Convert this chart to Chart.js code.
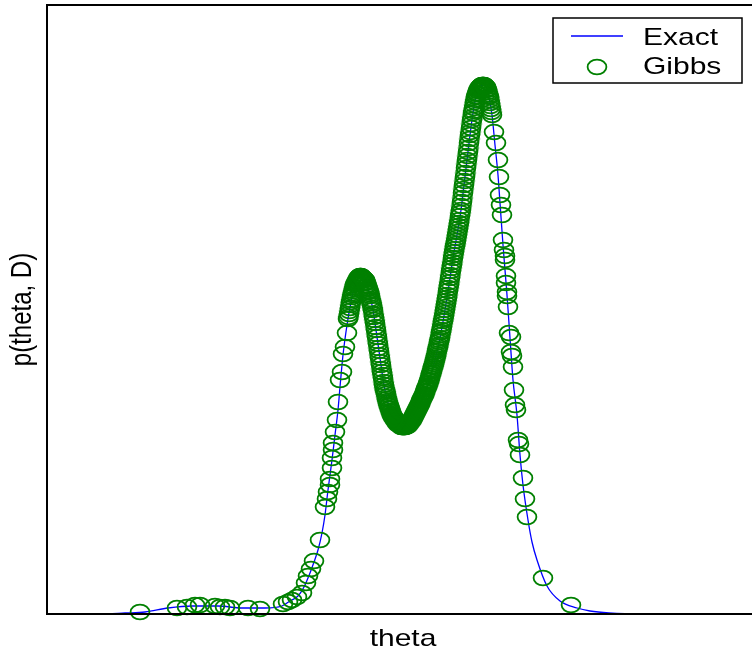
<!DOCTYPE html>
<html>
<head>
<meta charset="utf-8">
<title>Exact vs Gibbs</title>
<script src="https://cdn.jsdelivr.net/npm/chart.js@4/dist/chart.umd.min.js"></script>
<style>
  html, body { margin: 0; padding: 0; overflow: hidden; background: #fff; }
  canvas { display: block; }
</style>
</head>
<body>
<canvas id="densityChart" width="764" height="653"></canvas>
<script>
'use strict';

// exact density p(theta, D)
var exactTheta = [-3.50,-2.97,-2.72,-2.52,-2.29,-2.05,-1.79,-1.55,-1.32,-1.15,
  -1.07,-0.99,-0.93,-0.87,-0.83,-0.79,-0.75,-0.72,-0.69,-0.65,
  -0.62,-0.59,-0.57,-0.54,-0.50,-0.46,-0.42,-0.37,-0.32,-0.28,
  -0.24,-0.21,-0.17,-0.13,-0.09,-0.04,0.01,0.06,0.10,0.15,
  0.21,0.27,0.33,0.38,0.43,0.48,0.52,0.56,0.60,0.64,
  0.67,0.70,0.73,0.76,0.79,0.83,0.86,0.89,0.92,0.95,
  0.98,1.01,1.03,1.06,1.10,1.13,1.16,1.20,1.23,1.26,
  1.31,1.35,1.40,1.50,1.63,1.80,1.93,2.12,2.46,3.03,3.66];
var exactP = [0,0,0.001,0.002,0.006,0.008,0.008,0.006,0.006,0.008,
  0.013,0.018,0.027,0.041,0.052,0.064,0.081,0.099,0.124,0.154,
  0.179,0.204,0.227,0.259,0.289,0.312,0.329,0.338,0.334,0.322,
  0.304,0.284,0.256,0.229,0.211,0.197,0.190,0.187,0.188,0.194,
  0.206,0.219,0.236,0.254,0.276,0.304,0.329,0.356,0.379,0.404,
  0.429,0.454,0.479,0.501,0.517,0.527,0.529,0.527,0.517,0.499,
  0.469,0.439,0.411,0.369,0.319,0.276,0.234,0.199,0.159,0.129,
  0.094,0.072,0.054,0.028,0.013,0.006,0.003,0.001,0,0,0];

// Gibbs samples (theta, p) as they sit on the figure
var gibbsTheta = [-2.57,-2.20,-2.10,-2.02,-1.97,-1.82,-1.77,-1.72,-1.67,-1.49,
  -1.37,-1.14,-1.09,-1.05,-1.00,-0.95,-0.91,-0.89,-0.86,-0.83,
  -0.77,-0.72,-0.70,-0.69,-0.67,-0.67,-0.65,-0.65,-0.64,-0.64,
  -0.62,-0.60,-0.59,-0.57,-0.55,-0.54,-0.52,-0.50,
  -0.49,-0.48,-0.47,-0.46,-0.45,-0.44,-0.43,-0.42,-0.41,-0.40,
  -0.39,-0.38,-0.37,-0.36,-0.35,-0.34,-0.33,-0.32,-0.31,-0.30,
  -0.29,-0.28,-0.27,-0.26,-0.25,-0.24,-0.23,-0.22,-0.21,-0.20,
  -0.19,-0.18,-0.17,-0.16,-0.15,-0.14,-0.13,-0.12,-0.11,-0.10,
  -0.09,-0.08,-0.07,-0.06,-0.05,-0.04,-0.03,-0.02,-0.01,0.00,
  0.01,0.02,0.03,0.04,0.05,0.06,0.07,0.08,0.09,0.10,
  0.11,0.12,0.13,0.14,0.15,0.16,0.17,0.18,0.19,0.20,
  0.21,0.22,0.23,0.24,0.25,0.26,0.27,0.28,0.29,0.30,
  0.31,0.32,0.33,0.34,0.35,0.36,0.37,0.38,0.39,0.40,
  0.41,0.42,0.43,0.44,0.45,0.46,0.47,0.48,0.49,0.50,
  0.51,0.52,0.53,0.54,0.55,0.56,0.57,0.58,0.59,0.60,
  0.61,0.62,0.63,0.64,0.65,0.66,0.67,0.68,0.69,0.70,
  0.71,0.72,0.73,0.74,0.75,0.76,0.77,0.78,0.79,0.80,
  0.81,0.82,0.83,0.84,0.85,0.86,0.87,0.88,0.89,0.90,
  0.91,0.92,0.93,0.94,0.95,0.97,
  0.99,1.01,1.02,1.03,1.04,1.05,1.06,1.07,1.08,1.08,
  1.09,1.09,1.10,1.10,1.11,1.12,1.14,1.14,1.15,1.16,
  1.17,1.18,1.19,1.21,1.22,1.23,1.26,1.28,1.30,1.46,1.74];
var gibbsP = [0.002,0.006,0.007,0.009,0.009,0.008,0.007,0.007,0.006,0.006,
  0.005,0.010,0.012,0.014,0.017,0.021,0.031,0.038,0.045,0.053,
  0.074,0.107,0.115,0.122,0.129,0.135,0.146,0.156,0.164,0.171,
  0.182,0.194,0.212,0.234,0.242,0.260,0.267,0.281,
  0.295,0.300,0.306,0.312,0.317,0.321,0.325,0.329,0.331,0.333,
  0.335,0.337,0.338,0.338,0.337,0.336,0.335,0.334,0.331,0.328,
  0.325,0.322,0.318,0.313,0.309,0.304,0.297,0.291,0.284,0.277,
  0.270,0.263,0.256,0.249,0.242,0.236,0.229,0.224,0.220,0.215,
  0.211,0.208,0.205,0.202,0.199,0.197,0.196,0.194,0.193,0.191,
  0.190,0.190,0.189,0.188,0.187,0.187,0.187,0.187,0.188,0.188,
  0.189,0.190,0.192,0.193,0.194,0.196,0.198,0.200,0.202,0.204,
  0.206,0.208,0.210,0.213,0.215,0.217,0.219,0.222,0.225,0.227,
  0.230,0.233,0.236,0.240,0.243,0.247,0.250,0.254,0.258,0.263,
  0.267,0.272,0.276,0.282,0.287,0.293,0.298,0.304,0.310,0.316,
  0.323,0.329,0.336,0.343,0.349,0.356,0.362,0.368,0.373,0.379,
  0.385,0.391,0.398,0.404,0.412,0.421,0.429,0.437,0.446,0.454,
  0.462,0.471,0.479,0.486,0.494,0.501,0.506,0.512,0.517,0.520,
  0.523,0.525,0.527,0.528,0.529,0.529,0.529,0.528,0.527,0.524,
  0.520,0.517,0.511,0.505,0.499,0.482,
  0.471,0.454,0.437,0.419,0.409,0.399,0.374,0.364,0.358,0.354,
  0.338,0.331,0.322,0.318,0.307,0.281,0.277,0.262,0.258,0.247,
  0.224,0.209,0.204,0.174,0.170,0.159,0.136,0.115,0.097,0.036,0.009];

// more samples in the dense part of the chain (between the ones above)
var gibbsThetaDense = [-0.485,-0.475,-0.465,-0.455,-0.445,-0.435,-0.425,-0.415,-0.405,-0.395,
  -0.385,-0.375,-0.365,-0.355,-0.345,-0.335,-0.325,-0.315,-0.305,-0.295,
  -0.285,-0.275,-0.265,-0.255,-0.245,-0.235,-0.225,-0.215,-0.205,-0.195,
  -0.185,-0.175,-0.165,-0.155,-0.145,-0.135,-0.125,-0.115,-0.105,-0.095,
  -0.085,-0.075,-0.065,-0.055,-0.045,-0.035,-0.025,-0.015,-0.005,0.005,
  0.015,0.025,0.035,0.045,0.055,0.065,0.075,0.085,0.095,0.105,
  0.115,0.125,0.135,0.145,0.155,0.165,0.175,0.185,0.195,0.205,
  0.215,0.225,0.235,0.245,0.255,0.265,0.275,0.285,0.295,0.305,
  0.315,0.325,0.335,0.345,0.355,0.365,0.375,0.385,0.395,0.405,
  0.415,0.425,0.435,0.445,0.455,0.465,0.475,0.485,0.495,0.505,
  0.515,0.525,0.535,0.545,0.555,0.565,0.575,0.585,0.595,0.605,
  0.615,0.625,0.635,0.645,0.655,0.665,0.675,0.685,0.695,0.705,
  0.715,0.725,0.735,0.745,0.755,0.765,0.775,0.785,0.795,0.805,
  0.815,0.825,0.835,0.845,0.855,0.865,0.875,0.885,0.895,0.905,
  0.915,0.925,0.935,0.945];
var gibbsPDense = [0.297,0.303,0.309,0.314,0.319,0.323,0.327,0.330,0.332,0.334,
  0.336,0.337,0.338,0.337,0.336,0.335,0.334,0.332,0.329,0.326,
  0.323,0.320,0.315,0.311,0.306,0.300,0.294,0.287,0.280,0.273,
  0.266,0.259,0.252,0.245,0.239,0.232,0.226,0.222,0.217,0.213,
  0.209,0.206,0.203,0.200,0.198,0.196,0.195,0.193,0.192,0.190,
  0.190,0.189,0.188,0.187,0.187,0.187,0.187,0.187,0.188,0.188,
  0.189,0.191,0.192,0.193,0.195,0.197,0.199,0.201,0.203,0.205,
  0.207,0.209,0.211,0.214,0.216,0.218,0.220,0.223,0.226,0.228,
  0.231,0.234,0.238,0.241,0.245,0.248,0.252,0.256,0.260,0.265,
  0.269,0.274,0.279,0.284,0.290,0.295,0.301,0.307,0.313,0.319,
  0.326,0.332,0.339,0.346,0.352,0.359,0.365,0.370,0.376,0.382,
  0.388,0.394,0.401,0.408,0.416,0.425,0.433,0.441,0.450,0.458,
  0.466,0.475,0.482,0.490,0.497,0.503,0.509,0.514,0.518,0.521,
  0.524,0.526,0.527,0.528,0.529,0.529,0.528,0.527,0.525,0.522,
  0.518,0.514,0.508,0.502];

var seriesLabels = ['Exact', 'Gibbs'];
var xTitle = 'theta';
var yTitle = 'p(theta, D)';

var FONT = '24px "Liberation Sans", Arial, sans-serif';
var STRETCH = 1.25;   // the original figure was stretched sideways

// open ellipse marker, like the 'o' marker of the stretched figure
function ellipseMarker() {
  var c = document.createElement('canvas');
  c.width = 26; c.height = 22;
  var g = c.getContext('2d');
  g.strokeStyle = 'rgb(0,128,0)';
  g.lineWidth = 1.8;
  g.beginPath();
  g.ellipse(13, 11, 9.4, 7.4, 0, 0, 2 * Math.PI);
  g.stroke();
  return c;
}
var marker = ellipseMarker();

function pairs(xs, ys) {
  return xs.map(function (x, i) { return { x: x, y: ys[i] }; });
}

function stretchedText(ctx, text, x, y, rotate) {
  ctx.save();
  ctx.translate(x, y);
  if (rotate) {
    ctx.rotate(-Math.PI / 2);
    ctx.scale(1, STRETCH);
  } else {
    ctx.scale(STRETCH, 1);
  }
  ctx.fillText(text, 0, 0);
  ctx.restore();
}

// frame, axis titles and the boxed legend
var frameAndLabels = {
  id: 'frameAndLabels',
  afterDraw: function (chart) {
    var ctx = chart.ctx, a = chart.chartArea;
    ctx.save();
    ctx.strokeStyle = '#000';
    ctx.lineWidth = 2;
    ctx.strokeRect(a.left, a.top, a.right - a.left, a.bottom - a.top);

    ctx.fillStyle = '#000';
    ctx.font = FONT;
    ctx.textBaseline = 'alphabetic';
    ctx.textAlign = 'center';
    stretchedText(ctx, xTitle, (a.left + a.right) / 2 - 2, 646, false);
    stretchedText(ctx, yTitle, 31, (a.top + a.bottom) / 2, true);

    // legend box
    var bx = a.right - 210, by = a.top + 13, bw = 189, bh = 65;
    ctx.fillStyle = '#fff';
    ctx.fillRect(bx, by, bw, bh);
    ctx.lineWidth = 1.5;
    ctx.strokeStyle = '#000';
    ctx.strokeRect(bx, by, bw, bh);

    ctx.strokeStyle = 'rgb(0,0,255)';
    ctx.lineWidth = 1.3;
    ctx.beginPath();
    ctx.moveTo(bx + 18, by + 18);
    ctx.lineTo(bx + 70, by + 18);
    ctx.stroke();
    ctx.drawImage(marker, bx + 44 - marker.width / 2, by + 49 - marker.height / 2);

    ctx.fillStyle = '#000';
    ctx.textAlign = 'left';
    stretchedText(ctx, seriesLabels[0], bx + 90, by + 27, false);
    stretchedText(ctx, seriesLabels[1], bx + 90, by + 56, false);
    ctx.restore();
  }
};

var ctx = document.getElementById('densityChart').getContext('2d');
new Chart(ctx, {
  type: 'scatter',
  data: {
    datasets: [
      {
        label: seriesLabels[1],
        data: pairs(gibbsTheta.concat(gibbsThetaDense), gibbsP.concat(gibbsPDense)),
        pointStyle: marker,
        pointRadius: 8,
        showLine: false,
        clip: false,
        order: 0
      },
      {
        label: seriesLabels[0],
        data: pairs(exactTheta, exactP),
        showLine: true,
        borderColor: 'rgb(0,0,255)',
        borderWidth: 1.3,
        pointRadius: 0,
        cubicInterpolationMode: 'monotone',
        order: 1
      }
    ]
  },
  options: {
    responsive: false,
    animation: false,
    layout: { autoPadding: false, padding: { left: 47, top: 5, right: 1, bottom: 39 } },
    plugins: { legend: { display: false }, tooltip: { enabled: false } },
    scales: {
      x: { type: 'linear', display: false, min: -3.5, max: 3.66 },
      y: { type: 'linear', display: false, min: 0, max: 0.609 }
    }
  },
  plugins: [frameAndLabels]
});
</script>
</body>
</html>
